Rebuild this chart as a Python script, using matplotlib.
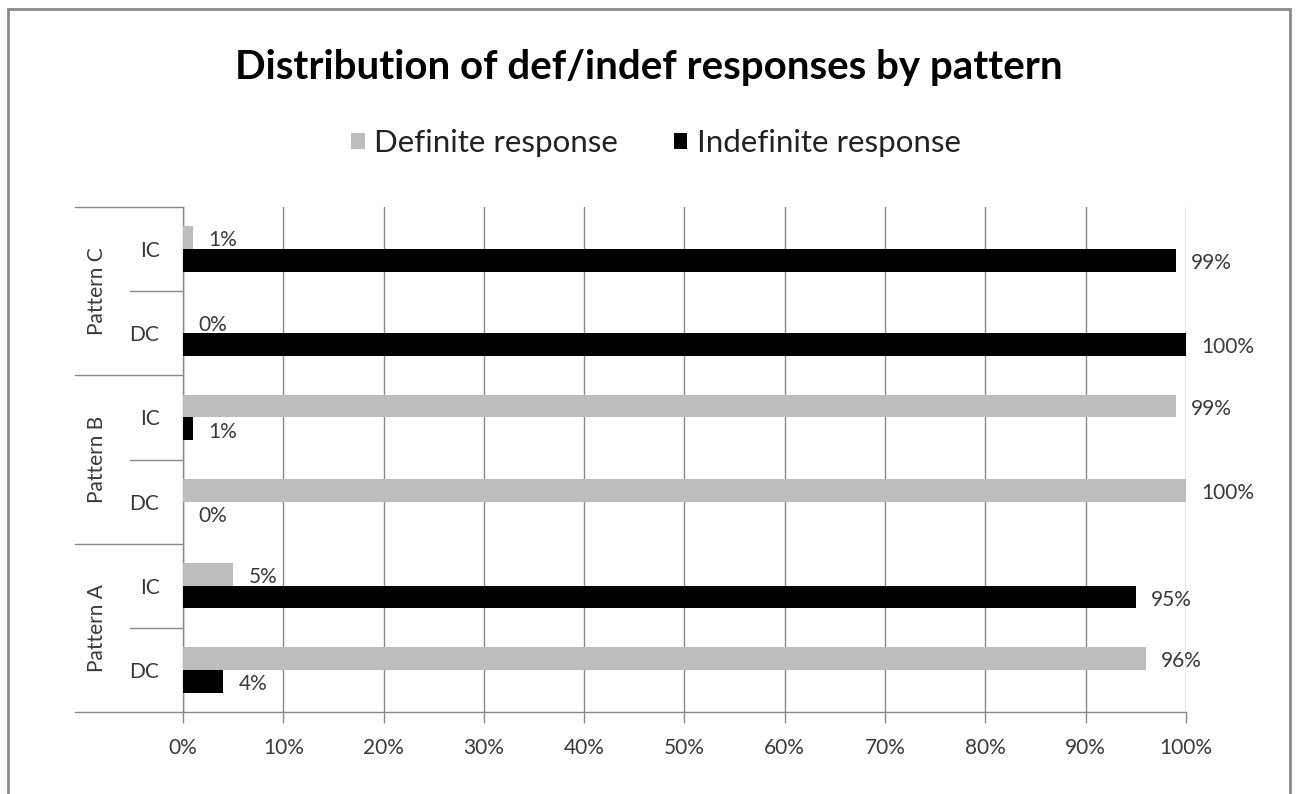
import matplotlib
matplotlib.use("Agg")
import matplotlib.pyplot as plt
from matplotlib.patches import Rectangle, Patch
import numpy as np

plt.rcParams['font.family'] = ['Lato', 'DejaVu Sans']

# Categories from bottom to top
patterns = ["Pattern A", "Pattern B", "Pattern C"]
conditions = ["DC", "IC"]
category_labels = ["DC", "IC", "DC", "IC", "DC", "IC"]
definite = [96, 5, 100, 99, 0, 1]
indefinite = [4, 95, 0, 1, 100, 99]
x_ticks = [0, 10, 20, 30, 40, 50, 60, 70, 80, 90, 100]

W, H = 1298, 794
fig = plt.figure(figsize=(W / 100, H / 100), dpi=100)
fig.patch.set_facecolor("white")

# Chart border
fig.add_artist(Rectangle((8 / W, -0.02), (1290 - 8) / W, 1.02 - 9 / H,
                         transform=fig.transFigure, fill=False,
                         edgecolor="#8a8a8a", linewidth=2))

left, right = 183 / W, 1186 / W
bottom, top = 1 - 712 / H, 1 - 207 / H
ax = fig.add_axes([left, bottom, right - left, top - bottom])

y = np.arange(len(category_labels))
bh = 0.27
gray = "#bdbdbd"
ax.barh(y + bh / 2, definite, height=bh, color=gray, zorder=3)
ax.barh(y - bh / 2, indefinite, height=bh, color="black", zorder=3)

lab_color = "#3a3a3a"
fs = 15
for yi, d, ind in zip(y, definite, indefinite):
    ax.annotate(f"{d}%", (d, yi + bh / 2), xytext=(11, -2), textcoords="offset points",
                ha="left", va="center", fontsize=fs, color=lab_color)
    ax.annotate(f"{ind}%", (ind, yi - bh / 2), xytext=(11, -2), textcoords="offset points",
                ha="left", va="center", fontsize=fs, color=lab_color)

ax.set_xlim(0, 100)
ax.set_ylim(-0.5, len(category_labels) - 0.5)
ax.set_xticks(x_ticks)
ax.set_xticklabels([f"{t}%" for t in x_ticks], fontsize=fs, color=lab_color)
ax.tick_params(axis="x", length=8, color="#8a8a8a", width=1, pad=11)
ax.set_yticks(y)
ax.set_yticklabels(category_labels, fontsize=fs, color=lab_color)
ax.tick_params(axis="y", length=0, pad=17)
ax.grid(axis="x", color="#8a8a8a", linewidth=1, zorder=0)

for s in ["top", "right"]:
    ax.spines[s].set_visible(False)
for s in ["left", "bottom"]:
    ax.spines[s].set_color("#8a8a8a")
    ax.spines[s].set_linewidth(1)

# Two-level category axis: separators and group labels
ytr = ax.get_yaxis_transform()
x_inner = (130 - 183) / 1003
x_outer = (75 - 183) / 1003
for b in np.arange(-0.5, len(category_labels), 1.0):
    is_group = abs((b + 0.5) % 2) < 1e-9
    x0 = x_outer if is_group else x_inner
    ax.plot([x0, 0], [b, b], transform=ytr, color="#8a8a8a", lw=1, clip_on=False)

x_pat = (97 - 183) / 1003
for i, p in enumerate(patterns):
    ax.text(x_pat, 2 * i + 0.5, p, transform=ytr, rotation=90, ha="center",
            va="center", fontsize=fs, color=lab_color)

fig.text(0.5, 1 - 67 / H, "Distribution of def/indef responses by pattern",
         ha="center", va="center", fontsize=29, fontweight="bold", color="black")

handles = [Patch(facecolor=gray, label="Definite response"),
           Patch(facecolor="black", label="Indefinite response")]
fig.legend(handles=handles, loc="center", bbox_to_anchor=(0.5 + 7 / W, 1 - 143 / H), ncol=2,
           frameon=False, fontsize=22.5, handlelength=0.42, handleheight=0.42,
           handletextpad=0.3, columnspacing=1.8, labelcolor="#222222")

fig.savefig("out.png", dpi=100, facecolor="white")
